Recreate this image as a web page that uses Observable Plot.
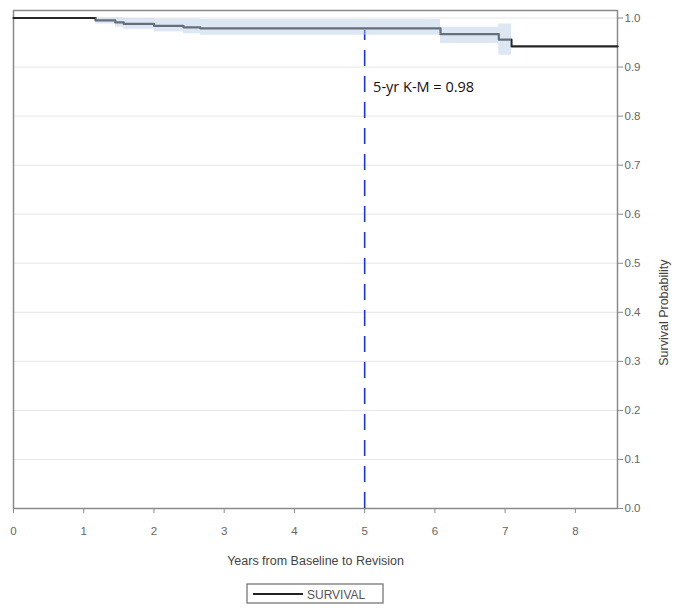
<!DOCTYPE html>
<html>
<head>
<meta charset="utf-8">
<script src="https://cdn.jsdelivr.net/npm/d3@7"></script>
<script src="https://cdn.jsdelivr.net/npm/@observablehq/plot@0.6"></script>
<style>
  html, body { margin: 0; padding: 0; background: #fff; }
  #chart svg { display: block; }
  #legend { margin-left: 246px; margin-top: 3px; }
</style>
</head>
<body>
<div id="chart"></div>
<div id="legend"></div>
<script>
// Kaplan-Meier step curve (years, survival)
const times = [0, 1.17, 1.45, 1.57, 2.0, 2.42, 2.66, 6.08, 6.91, 7.09, 8.6];
const survival = [1.0, 0.995, 0.991, 0.988, 0.984, 0.981, 0.979, 0.967, 0.956, 0.942, 0.942];
// Confidence band
const ciTimes = [1.17, 1.45, 1.57, 2.0, 2.42, 2.66, 6.08, 6.91, 7.09];
const ciLower = [0.988, 0.981, 0.977, 0.972, 0.968, 0.965, 0.948, 0.924, 0.924];
const ciUpper = [1.0, 1.0, 0.999, 0.998, 0.998, 0.997, 0.981, 0.988, 0.988];
// Reference marker
const refYear = [5];
const refTop = [0.975];
const annotation = ["5-yr K-M = 0.98"];
const annotationPos = [{x: 5.12, y: 0.858}];
const xTicks = [0, 1, 2, 3, 4, 5, 6, 7, 8];
const yTicks = [0, 0.1, 0.2, 0.3, 0.4, 0.5, 0.6, 0.7, 0.8, 0.9, 1.0];
const xTitle = "Years from Baseline to Revision";
const yTitle = "Survival Probability";
const legendLabel = "SURVIVAL";

const curve = times.map((t, i) => ({t, s: survival[i]}));
const band = ciTimes.map((t, i) => ({t, lo: ciLower[i], hi: ciUpper[i]}));

const chart = Plot.plot({
  width: 678,
  height: 580,
  marginTop: 10,
  marginLeft: 13,
  marginRight: 61,
  marginBottom: 72,
  style: {fontFamily: "'Liberation Sans', Arial, sans-serif", fontSize: "11px", background: "#fff"},
  x: {domain: [0, 8.6]},
  y: {domain: [0, 1.0153]},
  marks: [
    Plot.gridY(yTicks.slice(1), {stroke: "#e6e6e6", strokeOpacity: 1}),
    Plot.frame({stroke: "#8a8a8a", strokeWidth: 1.5}),
    Plot.ruleX(refYear, {y1: 0, y2: refTop[0], stroke: "#1a35e8", strokeWidth: 1.6, strokeDasharray: "16,10"}),
    Plot.line(curve, {x: "t", y: "s", curve: "step-after", stroke: "#262626", strokeWidth: 2.2}),
    Plot.areaY(band, {x: "t", y1: "lo", y2: "hi", curve: "step-after", fill: "#b3cae6", fillOpacity: 0.45}),
    Plot.text(annotation, {x: annotationPos[0].x, y: annotationPos[0].y, text: d => d, textAnchor: "start",
      fontFamily: "'Open Sans', sans-serif", fontSize: 14.5, fill: "#111"}),
    Plot.axisX(xTicks, {anchor: "bottom", tickSize: 5, tickPadding: 13, tickFormat: d => d, stroke: "#8a8a8a",
      fill: "#666", fontSize: 11.5, label: null}),
    Plot.axisY(yTicks, {anchor: "right", tickSize: 5, tickPadding: 2, tickFormat: d3.format(".1f"), stroke: "#8a8a8a",
      fill: "#666", fontSize: 11.5, label: null}),
    Plot.text([xTitle], {frameAnchor: "bottom", dy: 56, text: d => d, fill: "#444", fontSize: 12.5}),
    Plot.text([yTitle], {frameAnchor: "right", dx: 46, rotate: -90, text: d => d, fill: "#444", fontSize: 12.5})
  ]
});
document.getElementById("chart").appendChild(chart);

// Legend box
const lg = d3.select("#legend").append("svg").attr("width", 140).attr("height", 22);
lg.append("rect").attr("x", 1).attr("y", 1).attr("width", 136).attr("height", 19)
  .attr("fill", "#fff").attr("stroke", "#777").attr("stroke-width", 1.3);
lg.append("line").attr("x1", 7).attr("x2", 57).attr("y1", 11).attr("y2", 11)
  .attr("stroke", "#222").attr("stroke-width", 2);
lg.append("text").attr("x", 61).attr("y", 15.5).text(legendLabel)
  .attr("font-family", "'Liberation Sans', Arial, sans-serif").attr("font-size", 12).attr("fill", "#555");
</script>
</body>
</html>
